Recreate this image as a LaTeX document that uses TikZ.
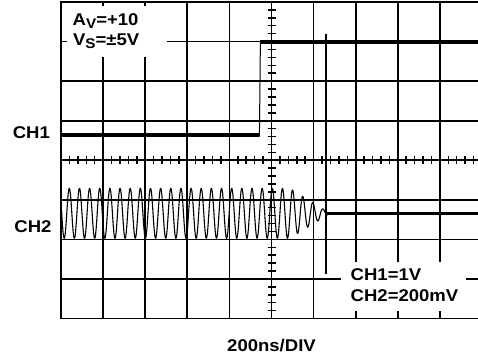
\documentclass[tikz,border=0pt]{standalone}
\usepackage{fontspec}
\setmainfont{Liberation Sans}[FakeStretch=1.09]
\begin{document}
\begin{tikzpicture}[x=1pt,y=-1pt,
  gridline/.style={line width=1.7pt,line cap=rect},
  tickline/.style={line width=1.5pt},
  thicktrace/.style={line width=4.3pt},
  thintrace/.style={line width=1.1pt,line join=round},
  lbl/.style={inner sep=0pt,anchor=base west,font=\fontsize{17}{20}\selectfont\bfseries},
  lblc/.style={lbl,anchor=base}]
\useasboundingbox (0,0) rectangle (478,360);
% grid
\foreach \i in {0,...,9}
  \draw[gridline] ({61+42.1*\i},2) -- ({61+42.1*\i},318.5);
\foreach \j in {0,...,8}
  \draw[gridline] (61,{2+39.5625*\j}) -- (480,{2+39.5625*\j});
% centre axes ticks
\foreach \k in {1,...,49}
  \draw[tickline] ({61+8.42*\k},156.2) -- ({61+8.42*\k},164.2);
\foreach \k in {1,...,39}
  \draw[tickline] (267.5,{2+7.9125*\k}) -- (275.5,{2+7.9125*\k});
% marker line
\draw[gridline,line cap=butt] (325.7,34) -- (325.7,274);
% label backgrounds
\fill[white] (66.5,6) rectangle (167,57);
\fill[white] (341,262) rectangle (466,311);
% CH1 trace
\draw[thicktrace] (59.5,135) -- (258.9,135);
\draw[line width=1pt] (259.4,136.5) -- (260.4,41.5);
\draw[thicktrace,line width=4pt] (260.2,42.3) -- (478,42.3);
% CH2 trace
\draw[thintrace] plot[domain=61:328,samples=900]
  (\x,{213.3-25*min(1,(330-\x)/40)*cos(35.468*(\x-69.3))});
\draw[thicktrace,line width=3.5pt] (326,213.3) -- (478,213.3);
% labels
\node[lbl] (av) at (72.5,25.7) {A\raisebox{-2.8pt}{\fontsize{14}{14}\selectfont V}=+10};
\node[lbl] (vs) at (72.8,45) {V\raisebox{-3.5pt}{\fontsize{14}{14}\selectfont S}=±5V};
\node[lbl] (ch1) at (12.6,138.3) {CH1};
\node[lbl] (ch2) at (14.2,232.3) {CH2};
\node[lbl] (ch1s) at (350.5,280) {CH1=1V};
\node[lbl] (ch2s) at (350.5,301) {CH2=200mV};
\node[lblc] (tb) at (271.5,351.7) {200ns/DIV};
\end{tikzpicture}
\end{document}
